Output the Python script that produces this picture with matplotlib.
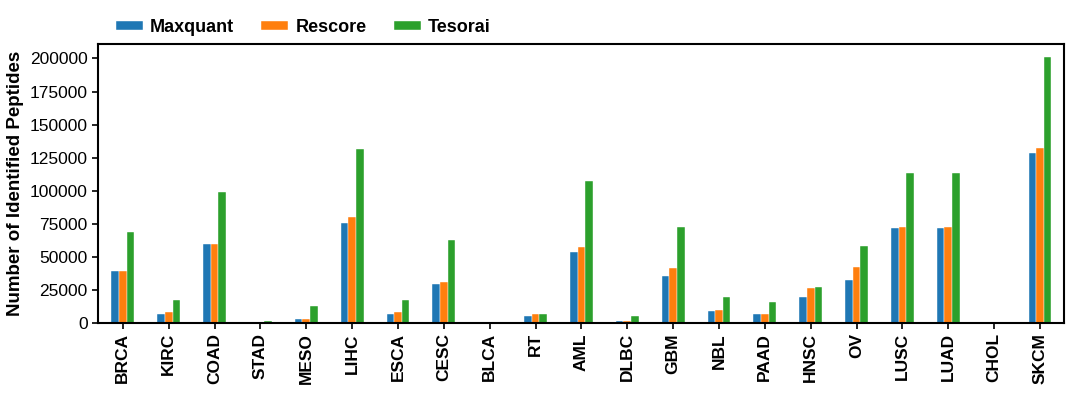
import matplotlib
matplotlib.use('Agg')
import numpy as np
import matplotlib.pyplot as plt

plt.rcParams['font.family'] = ['Liberation Sans', 'DejaVu Sans']

# 数据
cancer_types = ['BRCA', 'KIRC', 'COAD', 'STAD', 'MESO', 'LIHC', 'ESCA', 'CESC', 'BLCA', 'RT', 'AML',
                'DLBC', 'GBM', 'NBL', 'PAAD', 'HNSC', 'OV', 'LUSC', 'LUAD', 'CHOL', 'SKCM']
maxquant = [39500, 6300, 59600, 200, 2500, 75200, 7000, 29700, 200, 4800, 53300,
            1000, 35500, 9300, 6300, 19600, 32700, 71400, 71400, 0, 128500]
rescore = [39500, 8000, 59600, 200, 2500, 80200, 8000, 30900, 200, 7000, 57600,
           1200, 41500, 10000, 7000, 26600, 42300, 72500, 72500, 0, 132300]
tesorai = [68400, 17400, 98600, 1000, 12800, 131500, 17000, 62900, 300, 7000, 107600,
           5500, 72200, 19800, 15600, 27400, 58100, 113200, 113200, 0, 201000]

series = [('Maxquant', maxquant, '#1f77b4'),
          ('Rescore', rescore, '#ff7f0e'),
          ('Tesorai', tesorai, '#2ca02c')]

fig = plt.figure(figsize=(10.9, 4.03), dpi=100)
ax = fig.add_axes([0.09, 0.199, 0.886, 0.692])

x = np.arange(len(cancer_types))
w = 1 / 6
for i, (name, vals, color) in enumerate(series):
    ax.bar(x + (i - 1) * w, vals, width=w, color=color, label=name,
           edgecolor='white', linewidth=0.3)

ax.set_xlim(-0.54, len(cancer_types) - 1 + 0.52)
ax.set_ylim(0, 211000)
ax.set_yticks(np.arange(0, 200001, 25000))
ax.set_xticks(x)
ax.set_xticklabels(cancer_types, rotation=90, fontsize=12.5, fontweight='bold')
ax.tick_params(axis='y', labelsize=12.5)
ax.tick_params(axis='both', length=4, width=1.2)
ax.set_ylabel('Number of Identified Peptides', fontsize=13.5, fontweight='bold')
for s in ax.spines.values():
    s.set_linewidth(1.5)

ax.legend(loc='lower left', bbox_to_anchor=(0.01, 1.0), ncol=3, frameon=False,
          prop={'weight': 'bold', 'size': 13}, handlelength=1.5, handleheight=0.45,
          handletextpad=0.4, columnspacing=1.5, borderaxespad=0.05)

plt.savefig('out.png', dpi=100)
